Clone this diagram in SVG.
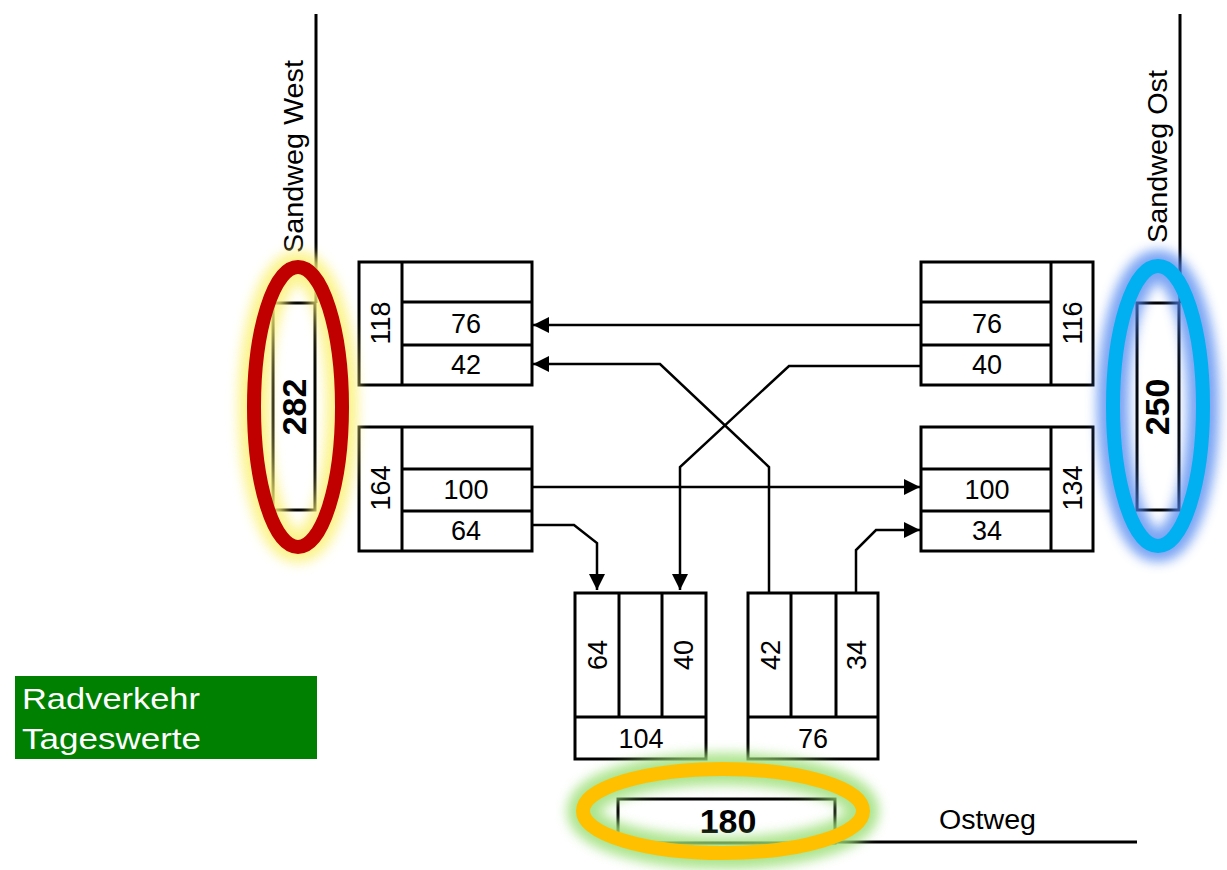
<svg xmlns="http://www.w3.org/2000/svg" width="1227" height="870" viewBox="0 0 1227 870">
<style>
.box{fill:#fff;stroke:#000;stroke-width:3}
.ln{fill:none;stroke:#000;stroke-width:3}
.road{fill:none;stroke:#000;stroke-width:3}
.con{fill:none;stroke:#000;stroke-width:2.5;marker-end:url(#arr)}
.n{font-family:"Liberation Sans",Arial,sans-serif;font-size:27px;fill:#000;text-anchor:middle}
.b{font-family:"Liberation Sans",Arial,sans-serif;font-size:34px;font-weight:bold;fill:#000;text-anchor:middle}
.lbl{font-family:"Liberation Sans",Arial,sans-serif;font-size:27px;fill:#000}
.leg{font-family:"Liberation Sans",Arial,sans-serif;font-size:30px;fill:#fff}
</style>
<defs>
<marker id="arr" markerUnits="userSpaceOnUse" markerWidth="16" markerHeight="16" refX="16" refY="8" orient="auto">
<path d="M0,0 L16,8 L0,16 z" fill="#000"/>
</marker>
<filter id="glow" x="-40%" y="-40%" width="180%" height="180%">
<feGaussianBlur stdDeviation="6"/>
</filter>
</defs>
<rect width="1227" height="870" fill="#fff"/>

<g id="road-west">
<line class="road" x1="316" y1="14" x2="316" y2="303"/>
<text class="lbl" transform="translate(303,253) rotate(-90)" textLength="193" lengthAdjust="spacingAndGlyphs">Sandweg West</text>
</g>
<g id="road-east">
<line class="road" x1="1180" y1="14" x2="1180" y2="303"/>
<text class="lbl" transform="translate(1167,243) rotate(-90)" textLength="173" lengthAdjust="spacingAndGlyphs">Sandweg Ost</text>
</g>
<g id="road-ostweg">
<line class="road" x1="835" y1="842" x2="1137" y2="842"/>
<text class="lbl" x="939" y="829" textLength="97" lengthAdjust="spacingAndGlyphs">Ostweg</text>
</g>

<g id="connectors">
<path class="con" d="M920,325 H533"/>
<path class="con" d="M920,366 H789 L680,467 V590"/>
<path class="con" d="M769,592 V467 L660,364 H533"/>
<path class="con" d="M532,487 H920"/>
<path class="con" d="M532,525 H574 L597,543 V590"/>
<path class="con" d="M856,592 V550 L876,530 H920"/>
</g>

<g id="node-west-top">
<rect class="box" x="359" y="262" width="173" height="123"/>
<line class="ln" x1="402" y1="262" x2="402" y2="385"/>
<line class="ln" x1="402" y1="302" x2="532" y2="302"/>
<line class="ln" x1="402" y1="345" x2="532" y2="345"/>
<text class="n" transform="translate(390,323) rotate(-90)">118</text>
<text class="n" x="466" y="333">76</text>
<text class="n" x="466" y="374">42</text>
</g>
<g id="node-west-bottom">
<rect class="box" x="359" y="427" width="173" height="124"/>
<line class="ln" x1="402" y1="427" x2="402" y2="551"/>
<line class="ln" x1="402" y1="469" x2="532" y2="469"/>
<line class="ln" x1="402" y1="511" x2="532" y2="511"/>
<text class="n" transform="translate(390,488) rotate(-90)">164</text>
<text class="n" x="466" y="499">100</text>
<text class="n" x="466" y="540">64</text>
</g>
<g id="node-east-top">
<rect class="box" x="921" y="262" width="172" height="123"/>
<line class="ln" x1="1051" y1="262" x2="1051" y2="385"/>
<line class="ln" x1="921" y1="302" x2="1051" y2="302"/>
<line class="ln" x1="921" y1="345" x2="1051" y2="345"/>
<text class="n" transform="translate(1082,323) rotate(-90)">116</text>
<text class="n" x="987" y="333">76</text>
<text class="n" x="987" y="374">40</text>
</g>
<g id="node-east-bottom">
<rect class="box" x="921" y="427" width="172" height="124"/>
<line class="ln" x1="1051" y1="427" x2="1051" y2="551"/>
<line class="ln" x1="921" y1="469" x2="1051" y2="469"/>
<line class="ln" x1="921" y1="511" x2="1051" y2="511"/>
<text class="n" transform="translate(1082,488) rotate(-90)">134</text>
<text class="n" x="987" y="499">100</text>
<text class="n" x="987" y="540">34</text>
</g>
<g id="node-south-left">
<rect class="box" x="575" y="593" width="131" height="166"/>
<line class="ln" x1="619" y1="593" x2="619" y2="717"/>
<line class="ln" x1="662" y1="593" x2="662" y2="717"/>
<line class="ln" x1="575" y1="717" x2="706" y2="717"/>
<text class="n" transform="translate(607,655) rotate(-90)">64</text>
<text class="n" transform="translate(693,655) rotate(-90)">40</text>
<text class="n" x="641" y="748">104</text>
</g>
<g id="node-south-right">
<rect class="box" x="748" y="593" width="130" height="166"/>
<line class="ln" x1="791" y1="593" x2="791" y2="717"/>
<line class="ln" x1="836" y1="593" x2="836" y2="717"/>
<line class="ln" x1="748" y1="717" x2="878" y2="717"/>
<text class="n" transform="translate(780,655) rotate(-90)">42</text>
<text class="n" transform="translate(866,655) rotate(-90)">34</text>
<text class="n" x="813" y="748">76</text>
</g>

<g id="node-west-total">
<rect class="box" x="273" y="303" width="42" height="207"/>
<text class="b" transform="translate(306,407) rotate(-90)">282</text>
<ellipse cx="298" cy="407" rx="44" ry="140" fill="none" stroke="#fbf27a" stroke-width="32" opacity="0.85" filter="url(#glow)"/>
<ellipse cx="298" cy="407" rx="44" ry="140" fill="none" stroke="#c00000" stroke-width="14"/>
</g>
<g id="node-east-total">
<rect class="box" x="1137" y="303" width="42" height="207"/>
<text class="b" transform="translate(1169,407) rotate(-90)">250</text>
<ellipse cx="1158" cy="406" rx="45" ry="140" fill="none" stroke="#4f86f0" stroke-width="32" opacity="0.75" filter="url(#glow)"/>
<ellipse cx="1158" cy="406" rx="45" ry="140" fill="none" stroke="#00b0f0" stroke-width="14"/>
</g>
<g id="node-south-total">
<rect class="box" x="618" y="799" width="217" height="44"/>
<text class="b" x="728" y="833">180</text>
<ellipse cx="723" cy="811" rx="140" ry="42" fill="none" stroke="#9ee07a" stroke-width="32" opacity="0.85" filter="url(#glow)"/>
<ellipse cx="723" cy="811" rx="140" ry="42" fill="none" stroke="#ffc000" stroke-width="14"/>
</g>

<g id="legend">
<rect x="15" y="676" width="302" height="83" fill="#008000"/>
<text class="leg" x="22" y="709" textLength="178" lengthAdjust="spacingAndGlyphs">Radverkehr</text>
<text class="leg" x="22" y="749" textLength="179" lengthAdjust="spacingAndGlyphs">Tageswerte</text>
</g>
</svg>
